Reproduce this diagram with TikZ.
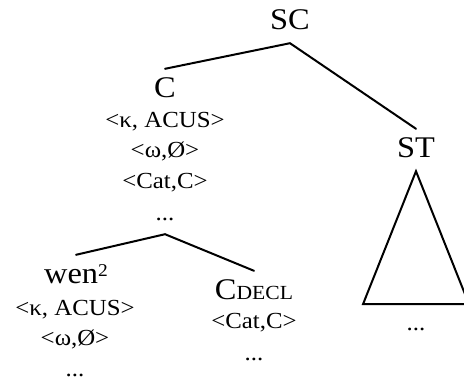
\documentclass[tikz,border=0pt]{standalone}
\usepackage{fontspec}
\setmainfont[FakeStretch=1.08]{Liberation Serif}
\begin{document}
\begin{tikzpicture}[x=1pt,y=-1pt,
  lab/.style={inner sep=0pt,anchor=base,text height=28pt,text depth=14pt,font=\fontsize{30}{31}\selectfont},
  feat/.style={inner sep=0pt,anchor=base,text height=28pt,text depth=14pt,font=\fontsize{23}{24}\selectfont},
  edge/.style={line width=2pt,line cap=round},
  tri/.style={line width=2pt,line join=miter}]
\useasboundingbox (0,0) rectangle (464,381);
% upper tree
\node[lab]  (SC)  at (290,29)  {SC};
\node[lab]  (C)   at (165,97)  {C};
\node[feat] (Ck)  at (165,127) {<κ, ACUS>};
\node[feat] (Cw)  at (165,157) {<ω,Ø>};
\node[feat] (Cc)  at (165,188) {<Cat,C>};
\node[feat] (Cd)  at (165,220) {...};
\node[lab]  (ST)  at (416,157) {ST};
\node[feat] (STd) at (416,330) {...};
% lower tree
\node[lab]  (wen) at (76,283)  {wen\raisebox{7pt}{\fontsize{18}{18}\selectfont 2}};
\node[feat] (wk)  at (75,315)  {<κ, ACUS>};
\node[feat] (ww)  at (75,345)  {<ω,Ø>};
\node[feat] (wd)  at (75,376)  {...};
\node[lab]  (CD)  at (254,299) {C{\fontsize{20}{21}\selectfont DECL}};
\node[feat] (CDc) at (254,328) {<Cat,C>};
\node[feat] (CDd) at (254,360) {...};
% connectors
\draw[edge] (C.north) -- (SC.south) -- (ST.north);
\draw[edge] (wen.north) -- (Cd.south) -- (CD.north);
\draw[tri] (ST.south) -- ++(-53,133) -- ++(106,0) -- cycle;
\end{tikzpicture}
\end{document}
